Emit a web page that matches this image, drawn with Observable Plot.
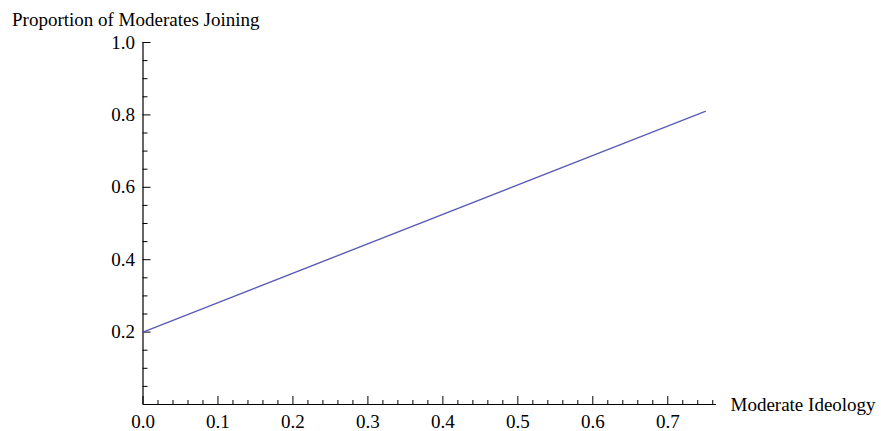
<!DOCTYPE html>
<html>
<head>
<meta charset="utf-8">
<script src="https://cdn.jsdelivr.net/npm/d3@7"></script>
<script src="https://cdn.jsdelivr.net/npm/@observablehq/plot@0.6"></script>
<style>
  html, body { margin: 0; padding: 0; background: white; }
</style>
</head>
<body>
<div id="chart"></div>
<script>
// Data
const lineX = [0, 0.75];
const lineY = [0.2, 0.81];

const xMajorTicks = [0, 0.1, 0.2, 0.3, 0.4, 0.5, 0.6, 0.7];
const xMinorTicks = [0.02, 0.04, 0.06, 0.08, 0.12, 0.14, 0.16, 0.18, 0.22, 0.24, 0.26, 0.28,
  0.32, 0.34, 0.36, 0.38, 0.42, 0.44, 0.46, 0.48, 0.52, 0.54, 0.56, 0.58,
  0.62, 0.64, 0.66, 0.68, 0.72, 0.74, 0.76];
const yMajorTicks = [0.2, 0.4, 0.6, 0.8, 1.0];
const yMinorTicks = [0.05, 0.1, 0.15, 0.25, 0.3, 0.35, 0.45, 0.5, 0.55, 0.65, 0.7, 0.75, 0.85, 0.9, 0.95];

const titleText = "Proportion of Moderates Joining";
const xLabelText = "Moderate Ideology";

const points = lineX.map((x, i) => ({x, y: lineY[i]}));
const fmt = d3.format(".1f");

const chart = Plot.plot({
  width: 881,
  height: 431,
  marginLeft: 142.5,
  marginRight: 165,
  marginTop: 42,
  marginBottom: 27,
  style: {fontFamily: "'Liberation Serif', 'Times New Roman', serif", fontSize: "19px", background: "white", color: "black"},
  x: {domain: [0, 0.765]},
  y: {domain: [0, 1]},
  marks: [
    // axis lines
    Plot.ruleY([0], {stroke: "black", strokeWidth: 1.2}),
    Plot.ruleX([0], {stroke: "black", strokeWidth: 1.2}),
    // x ticks (inward)
    Plot.axisX({ticks: xMajorTicks, tickSize: -8, tickFormat: () => "", label: null, stroke: "black"}),
    Plot.axisX({ticks: xMinorTicks, tickSize: -4, tickFormat: () => "", label: null, stroke: "black"}),
    Plot.axisX({ticks: xMajorTicks, tickSize: 0, tickPadding: 10, tickFormat: fmt, label: null, fontSize: 19, fill: "black"}),
    // y ticks (inward)
    Plot.axisY({ticks: yMajorTicks, tickSize: -8, tickFormat: () => "", label: null, stroke: "black"}),
    Plot.axisY({ticks: yMinorTicks, tickSize: -5, tickFormat: () => "", label: null, stroke: "black"}),
    Plot.axisY({ticks: yMajorTicks, tickSize: 0, tickPadding: 8, tickFormat: fmt, label: null, fontSize: 19, fill: "black"}),
    // the curve
    Plot.line(points, {x: "x", y: "y", stroke: "#5c5cb8", strokeWidth: 1.4}),
    // titles
    Plot.text([titleText], {frameAnchor: "top-left", dx: -131, dy: -23, textAnchor: "start", lineAnchor: "middle", fontSize: 19, fill: "black"}),
    Plot.text([xLabelText], {frameAnchor: "bottom-right", dx: 14, dy: 0, textAnchor: "start", lineAnchor: "middle", fontSize: 19, fill: "black"})
  ]
});
document.getElementById("chart").appendChild(chart);
</script>
</body>
</html>
